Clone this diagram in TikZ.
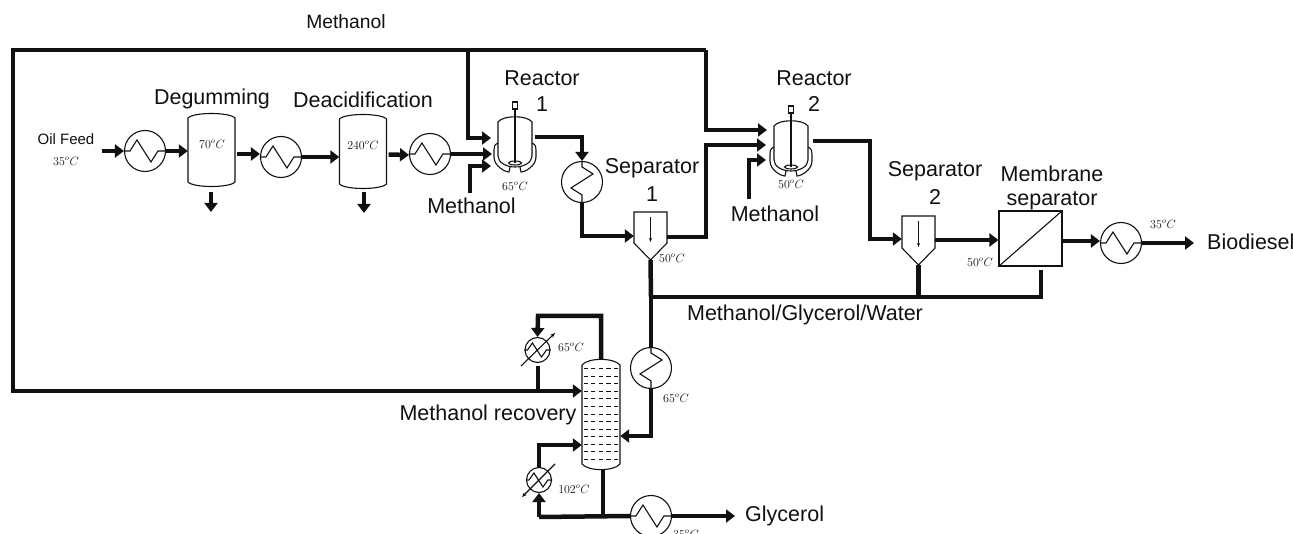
\documentclass[tikz,border=0pt]{standalone}
\usepackage[no-math]{fontspec}
\setmainfont{Liberation Sans}
\usetikzlibrary{arrows.meta,calc}
\definecolor{ink}{HTML}{111111}
\tikzset{
  x=1pt,y=-1pt,
  flow/.style={draw=ink,line width=4.5pt,line join=miter},
  flowa/.style={flow,-{Triangle[length=9pt,width=13pt]}},
  thinline/.style={draw=ink,line width=1.1pt},
  hx/.style={circle,draw=ink,line width=1.1pt,minimum size=41pt,inner sep=0pt,fill=white},
  hxs/.style={circle,draw=ink,line width=1.1pt,minimum size=25pt,inner sep=0pt,fill=white},
  lbl/.style={font=\fontsize{21.5}{24}\selectfont,text=ink,inner sep=0pt,align=center},
  top lbl/.style={font=\fontsize{19.3}{22}\selectfont,text=ink,inner sep=0pt},
  small lbl/.style={font=\fontsize{15}{17}\selectfont,text=ink,inner sep=0pt},
  temp/.style={font=\fontsize{12}{14}\selectfont,text=ink,inner sep=0pt},
}
\newcommand{\HXH}[3]{\node[hx] (#1) at (#2,#3) {};
  \draw[thinline] (#1.west) -- ++(6,0) -- ++(7,-11) -- ++(14,22) -- ++(7,-11) -- (#1.east);}
\newcommand{\HXV}[3]{\node[hx] (#1) at (#2,#3) {};
  \draw[thinline] (#1.north) -- ++(0,6) -- ++(11,7) -- ++(-22,14) -- ++(11,7) -- (#1.south);}
\newcommand{\HXS}[3]{\node[hxs] (#1) at (#2,#3) {};
  \draw[thinline] (#1.west) -- ++(3,0) -- ++(5,-7) -- ++(9,14) -- ++(5,-7) -- (#1.east);}
\newcommand{\Tank}[4]{% name, cx, top, bottom
  \node[minimum width=47pt,minimum height=#4pt-#3pt,inner sep=0pt] (#1) at (#2,{(#3+#4)/2}) {};
  \draw[thinline] (#2-23.5,#3+5) .. controls (#2-18,#3-1) and (#2+18,#3-1) .. (#2+23.5,#3+5)
    -- (#2+23.5,#4-5) .. controls (#2+18,#4+1) and (#2-18,#4+1) .. (#2-23.5,#4-5) -- cycle;}
\newcommand{\Reactor}[3]{% name, cx, top of vessel
  \node[minimum width=34pt,minimum height=52pt,inner sep=0pt] (#1) at (#2,#3+26) {};
  \draw[thinline] (#2-17,#3+6) .. controls (#2-12,#3-1) and (#2+12,#3-1) .. (#2+17,#3+6)
    -- (#2+17,#3+40) .. controls (#2+17,#3+47) and (#2+8,#3+51) .. (#2,#3+51)
    .. controls (#2-8,#3+51) and (#2-17,#3+47) .. (#2-17,#3+40) -- cycle;
  \draw[thinline] (#2-17,#3+27) .. controls (#2-21,#3+29) and (#2-21,#3+31) .. (#2-21,#3+34)
    -- (#2-21,#3+41) .. controls (#2-21,#3+50) and (#2-10,#3+56) .. (#2-6,#3+56) -- (#2-5,#3+51);
  \draw[thinline] (#2+17,#3+27) .. controls (#2+21,#3+29) and (#2+21,#3+31) .. (#2+21,#3+34)
    -- (#2+21,#3+41) .. controls (#2+21,#3+50) and (#2+10,#3+56) .. (#2+6,#3+56) -- (#2+5,#3+51);
  \draw[thinline] (#2-2.5,#3-14) rectangle (#2+2.5,#3-7);
  \draw[thinline] (#2,#3-7) -- (#2,#3+47);
  \draw[thinline] (#2,#3+47) ellipse (6.5pt and 2pt);}
\newcommand{\Sep}[5]{% name, left, right, top, shoulder
  \node[minimum width=#3pt-#2pt,minimum height=#5pt-#4pt+17pt,inner sep=0pt] (#1) at ({(#2+#3)/2},{(#4+#5+17)/2}) {};
  \draw[thinline,fill=white] (#2,#4) -- (#3,#4) -- (#3,#5) -- ({(#2+#3)/2},#5+17) -- (#2,#5) -- cycle;
  \draw[thinline,-{Stealth[length=4pt,width=3pt]}] ({(#2+#3)/2},#4+5) -- ({(#2+#3)/2},#5-1);}
\begin{document}
\begin{tikzpicture}
\useasboundingbox (0,0) rectangle (1293,534);
\fill[white] (0,0) rectangle (1293,534);
\clip (0,0) rectangle (1293,534);

% ---- free ends and junctions
\coordinate (feed) at (102,151);
\coordinate (deg out) at (211,192);
\coordinate (deg end) at (211,212);
\coordinate (dea out) at (364,192);
\coordinate (dea end) at (364,213);
\coordinate (tl) at (13,50);
\coordinate (bl) at (13,391);
\coordinate (branch a) at (468,50);
\coordinate (tr) at (706,50);
\coordinate (meoh a) at (470,193);
\coordinate (meoh b) at (749,199);
\coordinate (prod) at (1194,243);
\coordinate (gly) at (735,516);
\coordinate (recycle) at (651,297);
\coordinate (cond in) at (538,316);
\coordinate (reb low) at (539,517);
\coordinate (bot j) at (603,517);

% ---- equipment
\HXH{hxa}{145}{151}
\Tank{deg}{211.5}{113}{187}
\HXH{hxb}{281}{157}
\Tank{dea}{363}{114}{189}
\HXH{hxc}{430}{154}
\Reactor{rone}{515}{116}
\HXV{hxd}{582}{182}
\Sep{sepa}{634}{667}{212}{243}
\Reactor{rtwo}{791}{120}
\Sep{sepb}{902}{935}{216}{248}
\node[draw=ink,line width=1.1pt,minimum width=63pt,minimum height=55pt,inner sep=0pt] (mem) at (1030.5,238.5) {};
\draw[thinline] (mem.south west) -- (mem.north east);
\HXH{hxe}{1121}{243}
\HXV{hxf}{651}{368}
\HXH{hxg}{651}{516}
\node[minimum width=38pt,minimum height=111pt,inner sep=0pt] (col) at (601,414.5) {};
\draw[thinline] (582,365) .. controls (588,357.5) and (614,357.5) .. (620,365)
  -- (620,464) .. controls (614,471.5) and (588,471.5) .. (582,464) -- cycle;
\foreach \yy in {0,...,12}
  \draw[draw=ink,line width=1pt,dash pattern=on 4.2pt off 3.4pt] (583.5,369+\yy*7.5) -- (618,369+\yy*7.5);
\HXS{cond}{537.5}{350}
\draw[thinline,-{Stealth[length=5pt,width=4pt]}] (521,366) -- (555,333);
\HXS{reb}{539}{480}
\draw[thinline,-{Stealth[length=5pt,width=4pt]}] (555,464) -- (522,497);

% ---- streams
\draw[flowa] (feed) -- (hxa.west);
\draw[flowa] (hxa.east) -- (hxa.east -| deg.west);
\draw[flowa] ($(deg.east)+(2,4)$) -- (hxb.west |- {$(deg.east)+(2,4)$});
\draw[flowa] (hxb.east) -- (hxb.east -| dea.west);
\draw[flowa] ($(dea.east)+(2,3)$) -- ($(hxc.west)+(0,1)$);
\draw[flowa] (deg out) -- (deg end);
\draw[flowa] (dea out) -- (dea end);
\draw[flowa] (hxc.east) -- (492,154);
\draw[flowa] (tr) -- (tl) -- (bl) -- (col.west |- bl);
\draw[flowa] (branch a) -- (branch a |- 0,138) -- (491,138);
\draw[flowa] (meoh a) -- (meoh a |- 0,166) -- (491,166);
\draw[flowa] (535,137) -- (hxd.north |- 0,137) -- (hxd.north);
\draw[flowa] (hxd.south) -- (hxd.south |- 0,236) -- (sepa.west |- 0,236);
\draw[flowa] (sepa.east |- 0,237) -- (tr |- 0,237) -- (tr |- 0,145) -- (766,145);
\draw[flowa] (tr) -- (tr |- 0,130) -- (767,130);
\draw[flowa] (meoh b) -- (meoh b |- 0,160) -- (766,160);
\draw[flowa] (813,141) -- (870,141) -- (870,239) -- (sepb.west |- 0,239);
\draw[flowa] (sepb.east |- 0,240) -- (mem.west |- 0,240);
\draw[flowa] (mem.east |- 0,241) -- (hxe.west |- 0,241);
\draw[flowa] (hxe.east) -- (prod);
\draw[flow] (sepa.south) -- (recycle);
\draw[flow] (sepb.south) -- (sepb.south |- recycle);
\draw[flow] (1041,270) -- (1041,297) -- (recycle);
\draw[flow] (recycle) -- (hxf.north);
\draw[flowa] (hxf.south) -- (hxf.south |- 0,436) -- (col.east |- 0,436);
\draw[flowa] (601,359) -- (601,316) -- (cond in) -- (cond.north);
\draw[flow] (538,366) -- (538,391);
\draw[flowa] (reb.north) -- (reb.north |- 0,445) -- (col.west |- 0,445);
\draw[flow] (col.south -| bot j) -- (bot j);
\draw[flow] (hxg.west) -- (reb low);
\draw[flowa] (reb low) -- (reb.south);
\draw[flowa] (hxg.east) -- (gly);

% ---- labels
\node[top lbl] (l1) at (346,22) {Methanol};
\node[small lbl] (l2) at (66,139) {Oil Feed};
\node[temp] (t1) at (66,161) {$35^oC$};
\node[lbl] (l3) at (212,99) {Degumming};
\node[lbl] (l4) at (363,100) {Deacidification};
\node[temp] (t2) at (212,144) {$70^oC$};
\node[temp] (t3) at (363,145) {$240^oC$};
\node[lbl] (l5) at (542,78) {Reactor};
\node[lbl] (l5b) at (542,104) {1};
\node[lbl] (l6) at (471.5,206) {Methanol};
\node[temp] (t4) at (515,186) {$65^oC$};
\node[lbl] (l7) at (652,168) {Separator};
\node[lbl] (l7b) at (652,194) {1};
\node[temp] (t5) at (672,258) {$50^oC$};
\node[lbl] (l8) at (814,78) {Reactor};
\node[lbl] (l8b) at (814,104) {2};
\node[lbl] (l9) at (775,214) {Methanol};
\node[temp] (t6) at (791,184) {$50^oC$};
\node[lbl] (l10) at (935,171) {Separator};
\node[lbl] (l10b) at (935,197) {2};
\node[lbl] (l11) at (1052,174) {Membrane};
\node[lbl] (l11b) at (1052,201) {separator};
\node[temp] (t7) at (980,262) {$50^oC$};
\node[temp] (t8) at (1163,224) {$35^oC$};
\node[lbl,anchor=west] (l12) at (1207,242) {Biodiesel};
\node[lbl] (l13) at (805,315) {Methanol/Glycerol/Water};
\node[lbl] (l14) at (488,415) {Methanol recovery};
\node[temp] (t9) at (571,347) {$65^oC$};
\node[temp] (t10) at (676,398) {$65^oC$};
\node[temp] (t11) at (574,489) {$102^oC$};
\node[temp] (t12) at (686,534) {$35^oC$};
\node[lbl,anchor=west] (l15) at (745,516) {Glycerol};
\end{tikzpicture}
\end{document}
